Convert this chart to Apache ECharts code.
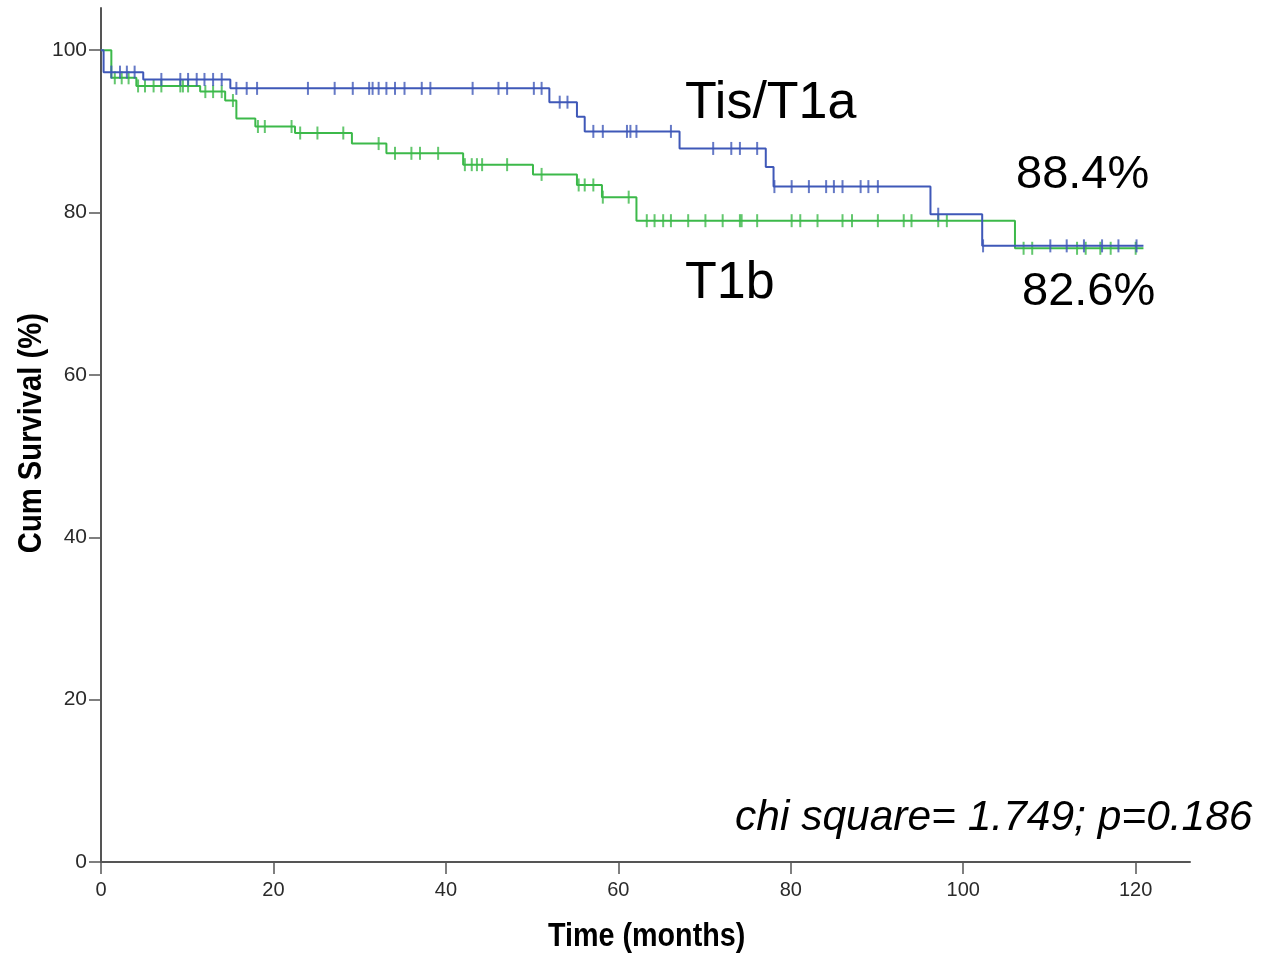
<!DOCTYPE html>
<html>
<head>
<meta charset="utf-8">
<script src="https://cdn.jsdelivr.net/npm/echarts@6/dist/echarts.min.js"></script>
<style>
html,body{margin:0;padding:0;background:#fff;}
#chart{width:1264px;height:954px;}
</style>
</head>
<body>
<div id="chart"></div>
<script>
// Tis/T1a (blue) Kaplan-Meier steps: time (months) and survival (%)
const blueTimes = [0, 0.3, 4.9, 15.0, 52.0, 55.2, 56.1, 67.1, 77.1, 78.0, 96.2, 102.2, 120.9];
const blueSurv  = [100, 97.3, 96.4, 95.3, 93.6, 91.8, 90.0, 87.9, 85.6, 83.2, 79.8, 75.9, 75.9];
const blueCensored = [1.2, 2.2, 3.0, 3.9, 7.0, 9.2, 10.1, 11.1, 12.0, 13.0, 14.0,
  15.7, 16.9, 18.1, 24.0, 27.1, 29.2, 31.1, 31.5, 32.2, 33.1, 34.1, 35.2, 37.2, 38.2, 43.1,
  46.1, 47.1, 50.2, 51.1, 53.2, 54.1, 57.1, 58.2, 61.0, 61.4, 62.1, 66.1,
  71.0, 73.1, 74.1, 76.1, 78.1, 80.1, 82.1, 84.1, 85.0, 86.0, 88.1, 89.0, 90.1,
  97.1, 102.3, 110.1, 112.0, 114.0, 116.1, 118.0, 120.1];

// T1b (green)
const greenTimes = [0, 1.2, 4.1, 11.5, 14.4, 15.7, 17.9, 22.5, 29.1, 33.1, 42.0, 50.1, 55.2, 58.1, 62.1, 106.0, 120.9];
const greenSurv  = [100, 96.6, 95.6, 94.9, 93.8, 91.6, 90.6, 89.8, 88.5, 87.3, 85.9, 84.7, 83.4, 81.9, 79.0, 75.6, 75.6];
const greenCensored = [1.6, 2.4, 3.2, 4.3, 5.1, 6.1, 7.0, 9.2, 9.5, 10.1, 12.1, 13.0, 14.0, 15.3,
  18.2, 19.0, 22.1, 23.1, 25.1, 28.1, 32.2, 34.1, 36.0, 37.0, 39.1,
  42.2, 43.0, 43.6, 44.2, 47.1, 51.1, 55.4, 56.1, 57.1, 58.2, 61.2,
  63.3, 64.2, 65.2, 66.1, 68.1, 70.1, 72.1, 74.1, 74.3, 76.1, 80.1, 81.1, 83.1, 86.0, 87.1, 90.1,
  93.1, 94.0, 97.1, 98.1, 107.0, 108.0, 113.2, 114.2, 115.9, 117.1, 120.0];

const xTicks = [0, 20, 40, 60, 80, 100, 120];
const yTicks = [0, 20, 40, 60, 80, 100];

const groupLabels = ['Tis/T1a', 'T1b'];
const pctLabels = ['88.4%', '82.6%'];
const statText = 'chi square= 1.749; p=0.186';
const xTitle = 'Time (months)';
const yTitle = 'Cum Survival (%)';

const BLUE = '#3f58b8';
const GREEN = '#3cb94a';

function levelAt(times, surv, t) {
  let v = surv[0];
  for (let i = 0; i < times.length; i++) { if (times[i] <= t) v = surv[i]; }
  return v;
}
function stepData(times, surv) { return times.map((t, i) => [t, surv[i]]); }
function censorData(times, surv, cens) { return cens.map(t => [t, levelAt(times, surv, t)]); }

const chart = echarts.init(document.getElementById('chart'), null, {renderer: 'canvas'});
const axisColor = '#555';
const sans = '"Liberation Sans", Arial, sans-serif';

chart.setOption({
  animation: false,
  backgroundColor: '#fff',
  grid: {left: 101, right: 74, top: 8, bottom: 92, containLabel: false},
  xAxis: {
    type: 'value', min: 0, max: 126.3,
    axisLine: {show: true, lineStyle: {color: axisColor, width: 2}},
    axisTick: {show: true, length: 12, lineStyle: {color: axisColor, width: 1.5}, customValues: xTicks},
    axisLabel: {color: '#2a2a2a', fontSize: 20, fontFamily: sans, margin: 18, customValues: xTicks},
    splitLine: {show: false}
  },
  yAxis: {
    type: 'value', min: 0, max: 105.2,
    axisLine: {show: true, lineStyle: {color: axisColor, width: 2}},
    axisTick: {show: true, length: 12, lineStyle: {color: axisColor, width: 1.5}, customValues: yTicks},
    axisLabel: {color: '#2a2a2a', fontSize: 21, fontFamily: sans, margin: 14, customValues: yTicks},
    splitLine: {show: false}
  },
  series: [
    {name: groupLabels[1], type: 'line', step: 'end', showSymbol: false, symbol: 'none',
     data: stepData(greenTimes, greenSurv), lineStyle: {color: GREEN, width: 2}, z: 2},
    {name: groupLabels[1] + ' censored', type: 'scatter', symbol: 'rect', symbolSize: [2, 13],
     data: censorData(greenTimes, greenSurv, greenCensored), itemStyle: {color: GREEN}, z: 3},
    {name: groupLabels[0], type: 'line', step: 'end', showSymbol: false, symbol: 'none',
     data: stepData(blueTimes, blueSurv), lineStyle: {color: BLUE, width: 2}, z: 4},
    {name: groupLabels[0] + ' censored', type: 'scatter', symbol: 'rect', symbolSize: [2, 13],
     data: censorData(blueTimes, blueSurv, blueCensored), itemStyle: {color: BLUE}, z: 5}
  ],
  graphic: [
    {type: 'text', left: 685, top: 78, style: {text: groupLabels[0], font: '52px ' + sans, fill: '#000'}},
    {type: 'text', left: 1016, top: 152, style: {text: pctLabels[0], font: '47px ' + sans, fill: '#000'}},
    {type: 'text', left: 685, top: 258, style: {text: groupLabels[1], font: '52px ' + sans, fill: '#000'}},
    {type: 'text', left: 1022, top: 269, style: {text: pctLabels[1], font: '47px ' + sans, fill: '#000'}},
    {type: 'text', left: 735, top: 797, style: {text: statText, font: 'italic 42.5px ' + sans, fill: '#000'}},
    {type: 'text', left: 548, top: 920, scaleX: 0.87, style: {text: xTitle, font: 'bold 33px ' + sans, fill: '#000'}},
    {type: 'text', left: 15, top: 313, rotation: Math.PI / 2, scaleX: 0.885, style: {text: yTitle, font: 'bold 33px ' + sans, fill: '#000'}}
  ]
});
</script>
</body>
</html>
